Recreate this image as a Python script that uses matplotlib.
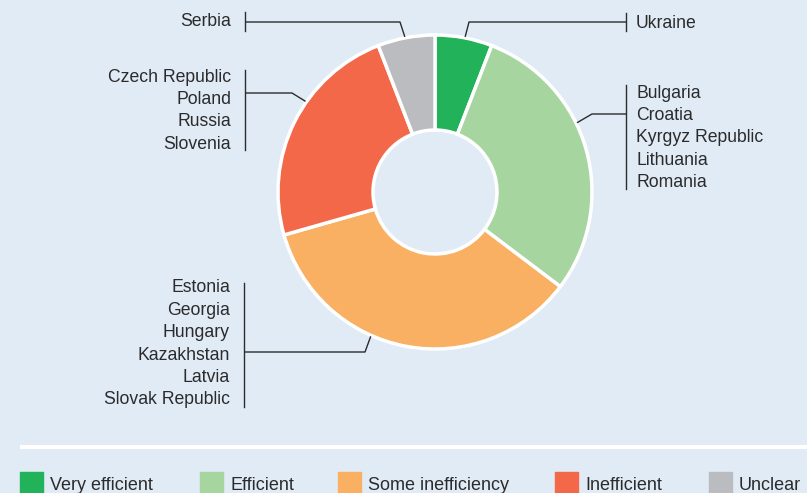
import numpy as np
import matplotlib
matplotlib.use("Agg")
import matplotlib.pyplot as plt

plt.rcParams['font.family'] = ['Liberation Sans', 'DejaVu Sans']

# data
categories = ["Very efficient", "Efficient", "Some inefficiency", "Inefficient", "Unclear"]
counts = [1, 5, 6, 4, 1]
countries = [
    ["Ukraine"],
    ["Bulgaria", "Croatia", "Kyrgyz Republic", "Lithuania", "Romania"],
    ["Estonia", "Georgia", "Hungary", "Kazakhstan", "Latvia", "Slovak Republic"],
    ["Czech Republic", "Poland", "Russia", "Slovenia"],
    ["Serbia"],
]
colors = ["#21b25a", "#a6d59f", "#f9b062", "#f26849", "#bbbcc0"]

bg = "#e1ebf6"
ink = "#2b2b2b"

fig = plt.figure(figsize=(8.07, 4.93), dpi=100, facecolor=bg)
ax = fig.add_axes([0, 0, 1, 1])
ax.set_facecolor(bg)

cx, cy, R, r_in = 435, 192, 157, 62
# y axis is inverted below, so start at -90 and go "counterclock" -> clockwise from top on screen
wedges, _ = ax.pie(counts, colors=colors, startangle=-90, counterclock=True,
                   center=(cx, cy), radius=R, frame=True,
                   wedgeprops=dict(width=R - r_in, edgecolor="white", linewidth=2.5))
ax.set_xlim(0, 807)
ax.set_ylim(493, 0)  # pixel coords, y down
ax.set_aspect('equal')
ax.axis('off')

# leader layout: anchor angle (deg clockwise from top), elbow, bar x, bar span, text side, first text y
fs = 12.7
lh = 22.4
leaders = [
    dict(ang=11, elbow=(469, 22), barx=626, bar=(13, 31), side="right", y0=23),
    dict(ang=64, elbow=(592, 114), barx=626, bar=(85, 189), side="right", y0=93),
    dict(ang=204, elbow=(365, 352), barx=244, bar=(283, 407), side="left", y0=288),
    dict(ang=305, elbow=(292, 93), barx=245, bar=(70, 150), side="left", y0=77),
    dict(ang=349, elbow=(400, 22), barx=245, bar=(12, 31), side="left", y0=21),
]
for names, ld in zip(countries, leaders):
    a = np.deg2rad(ld["ang"])
    px = cx + (R + 1) * np.sin(a)
    py = cy - (R + 1) * np.cos(a)
    ex, ey = ld["elbow"]
    ax.plot([px, ex, ld["barx"]], [py, ey, ey], color=ink, lw=1, solid_capstyle="butt")
    ax.plot([ld["barx"], ld["barx"]], ld["bar"], color=ink, lw=1)
    for i, nm in enumerate(names):
        if ld["side"] == "right":
            ax.text(ld["barx"] + 10, ld["y0"] + i * lh, nm, ha="left", va="center",
                    fontsize=fs, color=ink)
        else:
            ax.text(ld["barx"] - 14, ld["y0"] + i * lh, nm, ha="right", va="center",
                    fontsize=fs, color=ink)

# separator
ax.plot([20, 807], [447, 447], color="white", lw=3, solid_capstyle="butt")

# legend
leg_x = [20, 200, 338, 555, 709]
for x, c, lab in zip(leg_x, colors, categories):
    ax.add_patch(plt.Rectangle((x, 472), 23, 25, color=c, clip_on=False))
    ax.text(x + 30, 485, lab, ha="left", va="center", fontsize=13, color=ink)

fig.savefig("out.png", dpi=100, facecolor=bg)
